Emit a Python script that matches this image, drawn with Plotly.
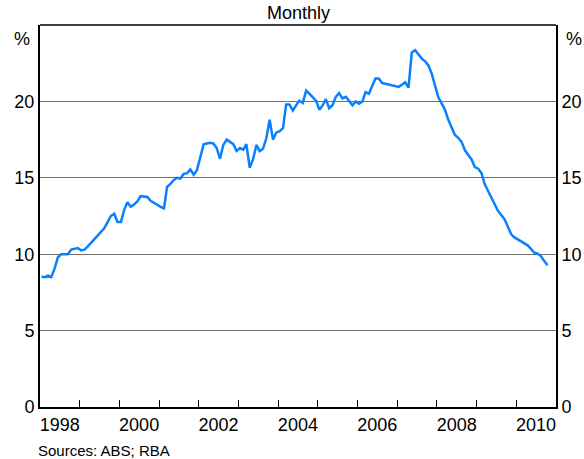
import plotly.graph_objects as go

# Monthly series, Jan 1998 - Oct 2010 (per cent)
values = [
    8.52, 8.5, 8.6, 8.5, 9.05, 9.8, 10.0, 10.0, 10.0, 10.3, 10.35, 10.4,
    10.25, 10.3, 10.5, 10.75, 10.95, 11.2, 11.5, 11.7, 12.1, 12.5, 12.65, 12.1,
    12.1, 12.9, 13.4, 13.1, 13.25, 13.45, 13.8, 13.75, 13.75, 13.5, 13.35, 13.2,
    13.1, 13.0, 14.4, 14.6, 14.85, 15.0, 14.95, 15.25, 15.3, 15.55, 15.2, 15.5,
    16.3, 17.2, 17.25, 17.3, 17.25, 16.95, 16.25, 17.15, 17.5, 17.35, 17.2, 16.75,
    16.95, 16.85, 17.2, 15.65, 16.2, 17.15, 16.75, 16.9, 17.6, 18.8, 17.5, 17.95,
    18.05, 18.25, 19.8, 19.8, 19.4, 19.75, 20.05, 19.9, 20.7, 20.5, 20.25, 20.05,
    19.45, 19.75, 20.15, 19.55, 19.75, 20.3, 20.55, 20.2, 20.3, 20.05, 19.75, 20.0,
    19.85, 20.0, 20.6, 20.5, 21.0, 21.5, 21.5, 21.2, 21.15, 21.1, 21.05, 21.0,
    20.95, 21.1, 21.25, 20.9, 23.2, 23.35, 23.05, 22.8, 22.62, 22.35, 21.8, 20.95,
    20.25, 19.85, 19.45, 18.8, 18.3, 17.8, 17.62, 17.35, 16.8, 16.5, 16.2, 15.7,
    15.6, 15.3, 14.6, 14.15, 13.75, 13.25, 12.85, 12.57, 12.28, 11.8, 11.3, 11.1,
    10.98, 10.84, 10.74, 10.58, 10.35, 10.1, 10.03, 9.88, 9.55, 9.28,
]
start_year = 1998
dates = [f"{start_year + m // 12}-{m % 12 + 1:02d}-15" for m in range(len(values))]

year_ticks = [f"{y}-01-01" for y in range(1999, 2011)]
label_years = [1998, 2000, 2002, 2004, 2006, 2008, 2010]
label_pos = [f"{y}-07-01" for y in label_years]
y_ticks = [0, 5, 10, 15, 20]

FONT = "Arial, Liberation Sans, sans-serif"
xr = ["1998-01-01", "2011-01-01"]

fig = go.Figure()
fig.add_trace(go.Scatter(x=dates, y=values, mode="lines",
                         line=dict(color="#0a80ff", width=2.5),
                         showlegend=False, hoverinfo="skip"))
# dummy trace for the right axis
fig.add_trace(go.Scatter(x=[dates[0]], y=[values[0]], yaxis="y2", xaxis="x2",
                         mode="lines", line=dict(width=0), showlegend=False,
                         hoverinfo="skip"))

fig.update_layout(
    width=584, height=459,
    margin=dict(l=40, r=28, t=25, b=52, autoexpand=False),
    paper_bgcolor="white", plot_bgcolor="white",
    font=dict(family=FONT, size=18, color="black"),
    xaxis=dict(type="date", range=xr, tickvals=year_ticks, ticktext=[""] * len(year_ticks),
               ticks="inside", ticklen=7, tickwidth=1, tickcolor="black",
               showgrid=False, showline=True, linewidth=2, linecolor="black",
               zeroline=False, automargin=False),
    xaxis2=dict(type="date", range=xr, overlaying="x", side="bottom",
                tickvals=label_pos, ticktext=[str(y) for y in label_years],
                ticks="", showgrid=False, showline=False, zeroline=False,
                tickfont=dict(size=18), automargin=False, ticklabelstandoff=5),
    yaxis=dict(range=[0, 25], tickvals=y_ticks, ticks="", showgrid=True,
               gridcolor="#6e6e6e", gridwidth=1.2, showline=True, linewidth=2,
               linecolor="black", zeroline=False, tickfont=dict(size=18),
               automargin=False),
    yaxis2=dict(range=[0, 25], tickvals=y_ticks, overlaying="y", side="right",
                ticks="", showgrid=False, showline=True, linewidth=2,
                linecolor="black", zeroline=False, tickfont=dict(size=18),
                automargin=False),
    shapes=[dict(type="line", xref="paper", yref="paper", x0=0, x1=1, y0=1, y1=1,
                 line=dict(color="black", width=1.5))],
    annotations=[
        dict(text="Monthly", xref="paper", yref="paper", x=0.5, y=1,
             xanchor="center", yanchor="bottom", showarrow=False,
             font=dict(size=18)),
        dict(text="%", xref="paper", yref="paper", x=0, y=0.963, xanchor="right",
             yanchor="middle", xshift=-8, showarrow=False, font=dict(size=18)),
        dict(text="%", xref="paper", yref="paper", x=1, y=0.963, xanchor="left",
             yanchor="middle", xshift=8, showarrow=False, font=dict(size=18)),
        dict(text="Sources: ABS; RBA", xref="paper", yref="paper", x=0, y=-0.115,
             xanchor="left", yanchor="middle", xshift=-4, showarrow=False,
             font=dict(size=15)),
    ],
)

fig.write_html("out.html", config={"displayModeBar": False},
               post_script="document.body.style.margin='0';document.body.style.overflow='hidden';")
